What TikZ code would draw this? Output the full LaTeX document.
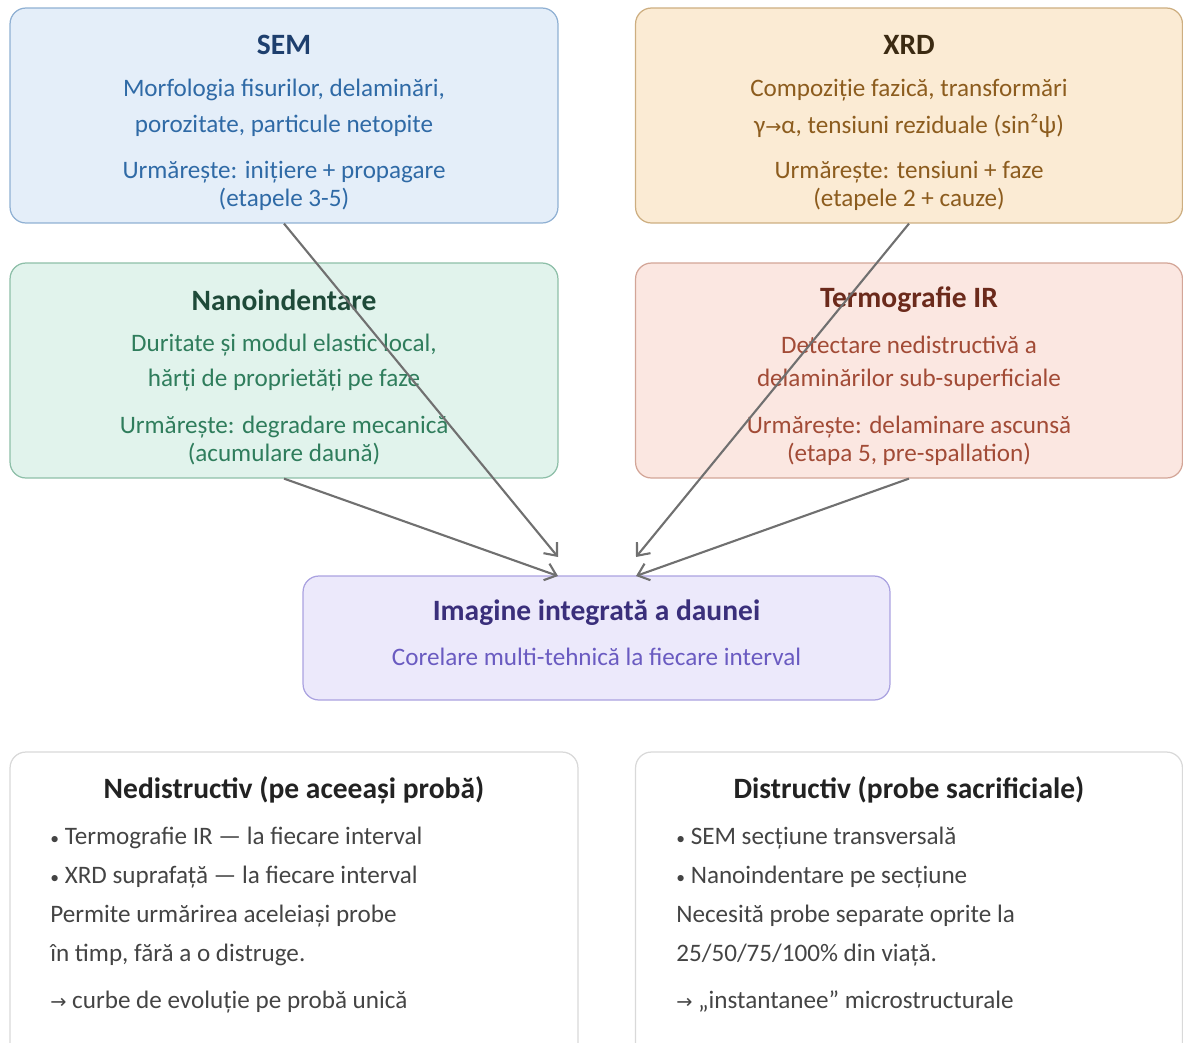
\documentclass[tikz,border=0pt]{standalone}
\usepackage{fontspec}
\setmainfont{Carlito}
\newfontfamily\symfont{DejaVu Sans}
\usetikzlibrary{arrows.meta}

\definecolor{semfill}{HTML}{E4EEF9}
\definecolor{semline}{HTML}{8FB0D3}
\definecolor{semttl}{HTML}{1E3F6E}
\definecolor{semtxt}{HTML}{2F6AA6}
\definecolor{xrdfill}{HTML}{FBEBD4}
\definecolor{xrdline}{HTML}{CDAE80}
\definecolor{xrdttl}{HTML}{3B2A12}
\definecolor{xrdtxt}{HTML}{8C5C1E}
\definecolor{nanofill}{HTML}{E1F3EC}
\definecolor{nanoline}{HTML}{8DBFA8}
\definecolor{nanottl}{HTML}{1E4A39}
\definecolor{nanotxt}{HTML}{2F7D5C}
\definecolor{irfill}{HTML}{FBE7E1}
\definecolor{irline}{HTML}{D3A597}
\definecolor{irttl}{HTML}{6B2A1B}
\definecolor{irtxt}{HTML}{A24B36}
\definecolor{imgfill}{HTML}{ECE9FB}
\definecolor{imgline}{HTML}{AAA2E0}
\definecolor{imgttl}{HTML}{3A2F7B}
\definecolor{imgtxt}{HTML}{6A5BC1}
\definecolor{noteline}{HTML}{D9D9D9}
\definecolor{notettl}{HTML}{222222}
\definecolor{notetxt}{HTML}{444444}
\definecolor{arrgray}{HTML}{707070}

\newcommand{\rarr}{{\symfont\fontsize{11}{13}\selectfont →}}
\newcommand{\smbul}{{\fontsize{10}{12}\selectfont •}}

\tikzset{
  card/.style={rounded corners=9pt, line width=0.7pt, inner sep=0pt},
  ttl/.style={font=\fontsize{16.8}{19}\selectfont\bfseries, inner sep=0pt},
  txt/.style={font=\fontsize{14.3}{17}\selectfont, inner sep=0pt},
  arr/.style={draw=arrgray, line width=1.2pt, -{Straight Barb[length=6pt,width=10pt]}}
}

\begin{document}
\begin{tikzpicture}[x=0.02cm, y=-0.02cm]
    \useasboundingbox (0,0) rectangle (1183,1042);
    \clip (0,0) rectangle (1183,1042);
    % four technique cards
    \node[card, fill=semfill, draw=semline, minimum width=10.96cm, minimum height=4.3cm] (sem) at (284,115.5) {};
    \node[card, fill=xrdfill, draw=xrdline, minimum width=10.94cm, minimum height=4.3cm] (xrd) at (909,115.5) {};
    \node[card, fill=nanofill, draw=nanoline, minimum width=10.96cm, minimum height=4.3cm] (nano) at (284,370.5) {};
    \node[card, fill=irfill, draw=irline, minimum width=10.94cm, minimum height=4.3cm] (ir) at (909,370.5) {};
    \node[card, fill=imgfill, draw=imgline, minimum width=11.74cm, minimum height=2.48cm] (img) at (596.5,638) {};
    \node[card, fill=white, draw=noteline, minimum width=11.36cm, minimum height=6.2cm] (nedis) at (294,907) {};
    \node[card, fill=white, draw=noteline, minimum width=10.94cm, minimum height=6.2cm] (dis) at (909,907) {};

    % SEM
    \node[ttl, text=semttl] (semt) at (284,45) {SEM};
    \node[txt, text=semtxt] (sem1) at (284,90) {Morfologia fisurilor, delaminări,};
    \node[txt, text=semtxt] (sem2) at (284,126) {porozitate, particule netopite};
    \node[txt, text=semtxt] (sem3) at (284,172) {Urmărește: inițiere + propagare};
    \node[txt, text=semtxt] (sem4) at (284,199) {(etapele 3-5)};
    % XRD
    \node[ttl, text=xrdttl] (xrdt) at (909,45) {XRD};
    \node[txt, text=xrdtxt] (xrd1) at (909,90) {Compoziție fazică, transformări};
    \node[txt, text=xrdtxt] (xrd2) at (909,126) {γ\rarr α, tensiuni reziduale (sin²ψ)};
    \node[txt, text=xrdtxt] (xrd3) at (909,172) {Urmărește: tensiuni + faze};
    \node[txt, text=xrdtxt] (xrd4) at (909,199) {(etapele 2 + cauze)};
    % Nanoindentare
    \node[ttl, text=nanottl] (nanot) at (284,300) {Nanoindentare};
    \node[txt, text=nanotxt] (nano1) at (284,345) {Duritate și modul elastic local,};
    \node[txt, text=nanotxt] (nano2) at (284,380) {hărți de proprietăți pe faze};
    \node[txt, text=nanotxt] (nano3) at (284,427) {Urmărește: degradare mecanică};
    \node[txt, text=nanotxt] (nano4) at (284,454) {(acumulare daună)};
    % Termografie
    \node[ttl, text=irttl] (irt) at (909,300) {Termografie IR};
    \node[txt, text=irtxt] (ir1) at (909,345) {Detectare nedistructivă a};
    \node[txt, text=irtxt] (ir2) at (909,380) {delaminărilor sub-superficiale};
    \node[txt, text=irtxt] (ir3) at (909,427) {Urmărește: delaminare ascunsă};
    \node[txt, text=irtxt] (ir4) at (909,454) {(etapa 5, pre-spallation)};
    % integrated image
    \node[ttl, text=imgttl] (imgt) at (596.5,613) {Imagine integrată a daunei};
    \node[txt, text=imgtxt] (img1) at (596.5,657) {Corelare multi-tehnică la fiecare interval};

    % arrows into the integrated image
    \coordinate (semend) at (558,557);
    \coordinate (xrdend) at (636,557);
    \coordinate (nanoend) at (558,576);
    \coordinate (irend) at (636,576);
    \draw[arr] (sem.south) -- (semend);
    \draw[arr] (xrd.south) -- (xrdend);
    \draw[arr] (nano.south) -- (nanoend);
    \draw[arr] (ir.south) -- (irend);

    % non-destructive / destructive notes
    \node[ttl, text=notettl] (nedist) at (294,790) {Nedistructiv (pe aceeași probă)};
    \node[txt, text=notetxt, anchor=west] (nedis1) at (50,838) {\smbul\ Termografie IR — la fiecare interval};
    \node[txt, text=notetxt, anchor=west] (nedis2) at (50,877) {\smbul\ XRD suprafață — la fiecare interval};
    \node[txt, text=notetxt, anchor=west] (nedis3) at (50,916) {Permite urmărirea aceleiași probe};
    \node[txt, text=notetxt, anchor=west] (nedis4) at (50,955) {în timp, fără a o distruge.};
    \node[txt, text=notetxt, anchor=west] (nedis5) at (50,1002) {\rarr\ curbe de evoluție pe probă unică};
    \node[ttl, text=notettl] (dist) at (909,790) {Distructiv (probe sacrificiale)};
    \node[txt, text=notetxt, anchor=west] (dis1) at (676,838) {\smbul\ SEM secțiune transversală};
    \node[txt, text=notetxt, anchor=west] (dis2) at (676,877) {\smbul\ Nanoindentare pe secțiune};
    \node[txt, text=notetxt, anchor=west] (dis3) at (676,916) {Necesită probe separate oprite la};
    \node[txt, text=notetxt, anchor=west] (dis4) at (676,955) {25/50/75/100\% din viață.};
    \node[txt, text=notetxt, anchor=west] (dis5) at (676,1002) {\rarr\ „instantanee" microstructurale};
\end{tikzpicture}
\end{document}
